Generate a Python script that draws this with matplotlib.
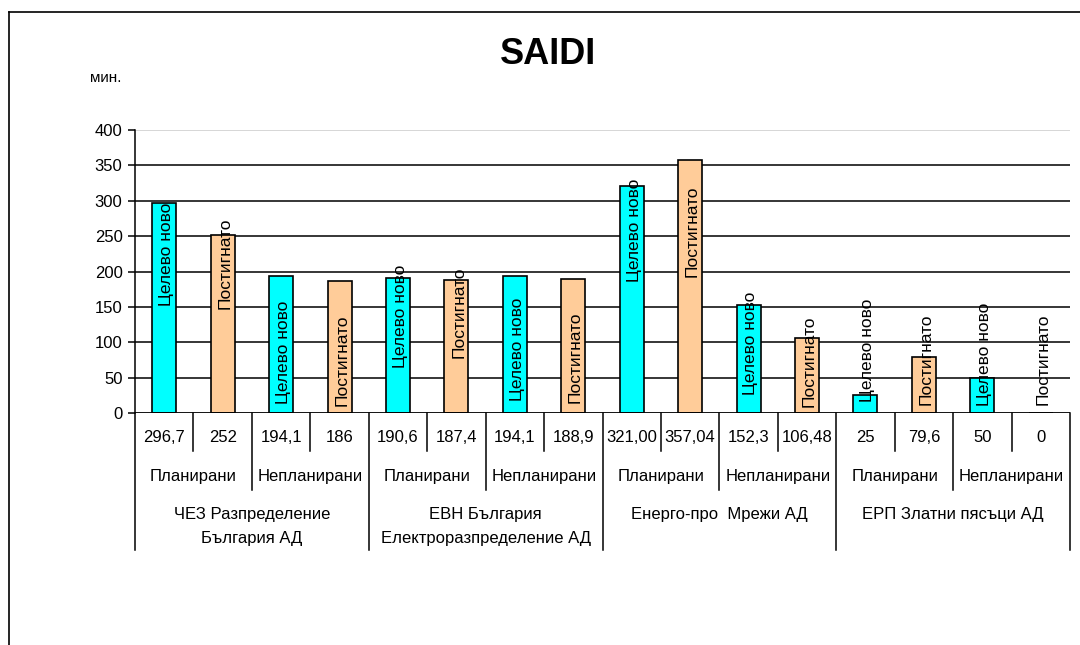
import matplotlib
matplotlib.use("Agg")
import matplotlib.pyplot as plt
from matplotlib.lines import Line2D
import numpy as np

plt.rcParams['font.family'] = ['Liberation Sans', 'DejaVu Sans']

# data
values = [296.7, 252, 194.1, 186, 190.6, 187.4, 194.1, 188.9,
          321.00, 357.04, 152.3, 106.48, 25, 79.6, 50, 0]
value_labels = ["296,7", "252", "194,1", "186", "190,6", "187,4", "194,1", "188,9",
                "321,00", "357,04", "152,3", "106,48", "25", "79,6", "50", "0"]
series = ["Целево ново", "Постигнато"]
kinds = ["Планирани", "Непланирани"]
companies = ["ЧЕЗ Разпределение\nБългария АД",
             "ЕВН България\nЕлектроразпределение АД",
             "Енерго-про  Мрежи АД",
             "ЕРП Златни пясъци АД"]
yticks = [0, 50, 100, 150, 200, 250, 300, 350, 400]

# where Excel left the rotated bar labels (centre, in minutes)
label_pos = [225, 211, 86, 75, 137, 142, 90, 79, 258, 257, 99, 73, 88, 76, 83, 76]

W, H = 1080, 645
fig = plt.figure(figsize=(W / 100, H / 100), dpi=100)
x0, x1, y0, y1 = 135, 1070, 413, 130
ax = fig.add_axes([x0 / W, 1 - y0 / H, (x1 - x0) / W, (y0 - y1) / H])

colors = ["#00FFFF", "#FFCC99"]
x = np.arange(len(values))
ax.set_xlim(-0.5, len(values) - 0.5)
ax.set_ylim(0, 400)

for t in yticks[1:-1]:
    ax.axhline(t, color="black", lw=1.1, zorder=1)
ax.axhline(yticks[-1], color="#cfcfcf", lw=1.2, zorder=1)

ax.bar(x, values, width=0.41, color=[colors[i % 2] for i in x],
       edgecolor="black", linewidth=1.2, zorder=2)

for i in x:
    ax.text(i + 0.04, label_pos[i], series[i % 2], rotation=90, ha="center", va="center",
            rotation_mode="anchor", fontsize=12.5, zorder=3)

ax.set_yticks(yticks)
ax.set_yticklabels([str(t) for t in yticks], fontsize=12)
ax.tick_params(axis="y", length=5, width=1.1, pad=4)
ax.set_xticks([])
for s in ["top", "right", "bottom"]:
    ax.spines[s].set_visible(False)
ax.spines["left"].set_linewidth(1.1)
ax.axhline(0, color="black", lw=1.3, zorder=4)

# table of categories under the axis
def fy(py):
    return -(py - y0) / (y0 - y1)

tr = ax.get_xaxis_transform()
n = len(values)
for b in range(n + 1):
    if b % 4 == 0:
        end = 550
    elif b % 2 == 0:
        end = 490
    else:
        end = 451
    ax.plot([b - 0.5, b - 0.5], [0, fy(end)], color="black", lw=1.1,
            transform=tr, clip_on=False)

for i in x:
    ax.text(i, fy(438), value_labels[i], ha="center", va="center",
            fontsize=12, transform=tr)
for g in range(n // 2):
    ax.text(2 * g + 0.5, fy(477), kinds[g % 2], ha="center", va="center",
            fontsize=12, transform=tr)
for c, name in enumerate(companies):
    for k, line in enumerate(name.split("\n")):
        ax.text(4 * c + 1.5, fy(514 + 24 * k), line, ha="center", va="center",
                fontsize=12, transform=tr)

fig.text(548 / W, 1 - 55 / H, "SAIDI", ha="center", va="center",
         fontsize=26, fontweight="bold")
fig.text(90 / W, 1 - 78 / H, "мин.", ha="left", va="center", fontsize=11)

# frame of the embedded chart
fig.add_artist(Line2D([9 / W, 9 / W], [0, 1 - 12 / H], color="black", lw=1.2))
fig.add_artist(Line2D([9 / W, 1], [1 - 12 / H, 1 - 12 / H], color="black", lw=1.2))

fig.savefig("out.png", dpi=100)
